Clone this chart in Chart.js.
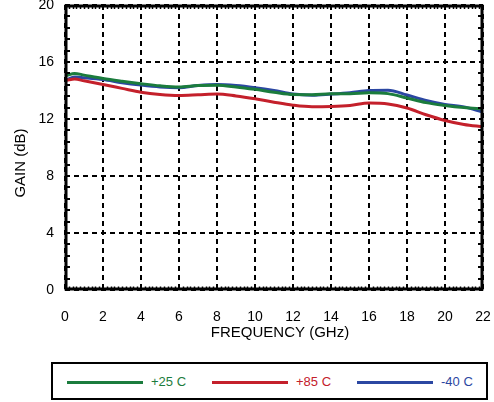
<!DOCTYPE html>
<html>
<head>
<meta charset="utf-8">
<script src="https://cdn.jsdelivr.net/npm/chart.js@4/dist/chart.umd.min.js"></script>
<style>
  html, body { margin: 0; padding: 0; background: #fff; }
  #wrap { position: relative; width: 494px; height: 402px; font-family: "Liberation Sans", Arial, Helvetica, sans-serif; }
  #gain { position: absolute; left: 0; top: 0; }
  #legend { position: absolute; left: 51px; top: 362px; width: 433px; height: 34px; border: 2px solid #000; background: #fff; }
  #legend .sw { position: absolute; top: 17px; width: 76px; height: 3px; }
  #legend .lb { position: absolute; top: 0; line-height: 35px; font-size: 13px; white-space: nowrap; }
</style>
</head>
<body>
<div id="wrap">
  <canvas id="gain" width="494" height="402"></canvas>
  <div id="legend"></div>
</div>
<script>
// Frequency points (GHz)
const freqGHz = [0.1, 0.5, 1, 2, 3, 4, 5, 6, 7, 8, 9, 10, 11, 12, 13, 14, 15, 16, 17, 18, 19, 20, 21, 22];

// Gain (dB) at each temperature
const gainP25 = [15.05, 15.2, 15.08, 14.84, 14.65, 14.48, 14.33, 14.25, 14.35, 14.37, 14.25, 14.08, 13.88, 13.72, 13.71, 13.78, 13.78, 13.84, 13.78, 13.47, 13.15, 12.95, 12.8, 12.7];
const gainP85 = [14.72, 14.8, 14.68, 14.42, 14.15, 13.88, 13.72, 13.65, 13.7, 13.76, 13.62, 13.42, 13.18, 12.97, 12.86, 12.88, 12.95, 13.12, 13.06, 12.77, 12.3, 11.9, 11.62, 11.45];
const gainM40 = [14.75, 14.95, 14.9, 14.77, 14.55, 14.38, 14.25, 14.2, 14.35, 14.42, 14.35, 14.2, 14.0, 13.75, 13.67, 13.75, 13.85, 14.0, 14.02, 13.68, 13.3, 13.02, 12.85, 12.48];

const seriesLabels = ['+25 C', '+85 C', '-40 C'];
const seriesColors = ['#1b7c3d', '#c4202b', '#2b47a2'];

// Axis ticks
const xTicks = [0, 2, 4, 6, 8, 10, 12, 14, 16, 18, 20, 22];
const yTicks = [0, 4, 8, 12, 16, 20];

const FONT = '"Liberation Sans", Arial, Helvetica, sans-serif';

const toPoints = (ys) => ys.map((y, i) => ({ x: freqGHz[i], y }));
const seriesData = [gainP25, gainP85, gainM40];

const datasets = seriesData.map((ys, i) => ({
  label: seriesLabels[i],
  data: toPoints(ys),
  borderColor: seriesColors[i],
  backgroundColor: seriesColors[i],
  borderWidth: 3,
  pointRadius: 0,
  cubicInterpolationMode: 'monotone',
  fill: false
}));

// Frame, minor tick marks and axis titles
const framePlugin = {
  id: 'frame',
  afterDatasetsDraw(chart) {
    const { ctx, chartArea: a, scales } = chart;
    const xs = scales.x, ys = scales.y;
    ctx.save();
    ctx.strokeStyle = '#000';

    // minor ticks on x (top and bottom edges)
    ctx.lineWidth = 1.5;
    ctx.beginPath();
    for (let k = 1; k < 110; k++) {
      if (k % 10 === 0) continue;
      const px = Math.round(xs.getPixelForValue(k * 0.2)) + 0.5;
      ctx.moveTo(px, a.bottom); ctx.lineTo(px, a.bottom - 3.5);
      ctx.moveTo(px, a.top); ctx.lineTo(px, a.top + 4);
    }
    ctx.stroke();

    // minor ticks on y (left and right edges)
    ctx.lineWidth = 2;
    ctx.beginPath();
    for (let k = 1; k < 25; k++) {
      if (k % 5 === 0) continue;
      const py = Math.round(ys.getPixelForValue(k * 0.8));
      ctx.moveTo(a.left, py); ctx.lineTo(a.left + 5, py);
      ctx.moveTo(a.right, py); ctx.lineTo(a.right - 5, py);
    }
    ctx.stroke();

    // plot frame
    ctx.lineWidth = 3;
    ctx.strokeRect(a.left + 1, a.top + 1, a.right - a.left - 2, a.bottom - a.top - 2);

    // axis titles
    ctx.fillStyle = '#000';
    ctx.font = '15px ' + FONT;
    ctx.textAlign = 'center';
    ctx.textBaseline = 'middle';
    ctx.fillText('FREQUENCY (GHz)', (a.left + a.right) / 2 + 6, 333);
    ctx.translate(21, 163);
    ctx.rotate(-Math.PI / 2);
    ctx.fillText('GAIN (dB)', 0, 0);
    ctx.restore();
  }
};

new Chart(document.getElementById('gain'), {
  type: 'line',
  data: { datasets },
  plugins: [framePlugin],
  options: {
    responsive: false,
    animation: false,
    events: [],
    layout: { padding: { left: 0, top: 5, right: 11, bottom: 72 } },
    plugins: { legend: { display: false }, tooltip: { enabled: false } },
    scales: {
      x: {
        type: 'linear',
        min: 0, max: 22,
        afterBuildTicks: (s) => { s.ticks = xTicks.map(v => ({ value: v })); },
        afterFit: (s) => { s.height = 40; s.paddingLeft = 0; s.paddingRight = 0; },
        grid: { color: '#000', lineWidth: 2, drawTicks: false },
        border: { display: false, dash: [5, 4] },
        ticks: { color: '#000', font: { family: FONT, size: 14 }, padding: 19, maxRotation: 0, autoSkip: false }
      },
      y: {
        type: 'linear',
        min: 0, max: 20,
        afterBuildTicks: (s) => { s.ticks = yTicks.map(v => ({ value: v })); },
        afterFit: (s) => { s.width = 65; s.paddingTop = 0; s.paddingBottom = 0; },
        grid: { color: '#000', lineWidth: 2, drawTicks: false },
        border: { display: false, dash: [5, 4] },
        ticks: { color: '#000', font: { family: FONT, size: 14 }, padding: 11 }
      }
    }
  }
});

// Legend built from the dataset list
const legend = document.getElementById('legend');
const swatchX = [14, 159, 304];
datasets.forEach((ds, i) => {
  const sw = document.createElement('div');
  sw.className = 'sw';
  sw.style.left = swatchX[i] + 'px';
  sw.style.background = ds.borderColor;
  legend.appendChild(sw);
  const lb = document.createElement('div');
  lb.className = 'lb';
  lb.style.left = (swatchX[i] + 84) + 'px';
  lb.style.color = ds.borderColor;
  lb.textContent = ds.label;
  legend.appendChild(lb);
});
</script>
</body>
</html>
